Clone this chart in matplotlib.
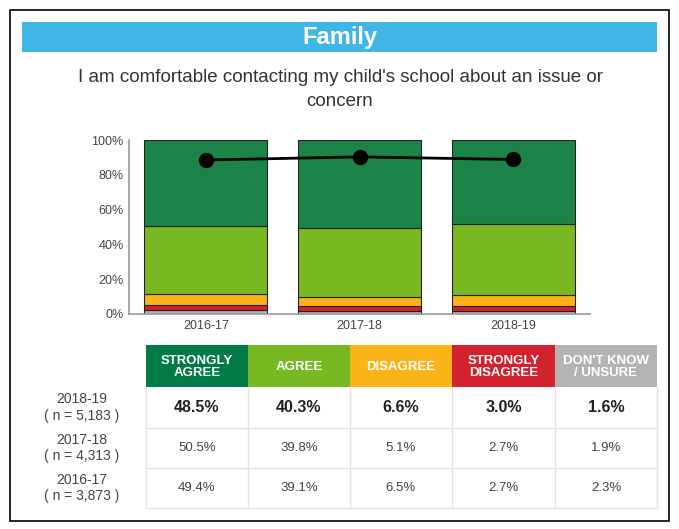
import matplotlib.pyplot as plt
from matplotlib.patches import Rectangle
import numpy as np

years = ['2016-17', '2017-18', '2018-19']
strongly_agree = [49.4, 50.5, 48.5]
agree = [39.1, 39.8, 40.3]
disagree = [6.5, 5.1, 6.6]
strongly_disagree = [2.7, 2.7, 3.0]
dont_know = [2.3, 1.9, 1.6]
n_resp = ['3,873', '4,313', '5,183']

categories = ['STRONGLY\nAGREE', 'AGREE', 'DISAGREE', 'STRONGLY\nDISAGREE', "DON'T KNOW\n/ UNSURE"]
bar_colors = ['#1c8447', '#78b820', '#fbb417', '#d3222e', '#b3b3b3']
head_colors = ['#007a46', '#78b820', '#fbb417', '#d3222e', '#b3b3b3']

plt.rcParams['font.family'] = ['Liberation Sans', 'DejaVu Sans']

W, H = 679, 529
fig = plt.figure(figsize=(W / 100, H / 100), dpi=100)

# full-figure overlay in pixel units
ax0 = fig.add_axes([0, 0, 1, 1])
ax0.set_xlim(0, W)
ax0.set_ylim(H, 0)
ax0.axis('off')

ax0.add_patch(Rectangle((10, 10), 659, 511, fill=False, ec='black', lw=1.2))
ax0.add_patch(Rectangle((22, 22), 635, 30, color='#41b6e6', lw=0))
ax0.text(340, 37.5, 'Family', color='white', fontsize=17, fontweight='bold',
         ha='center', va='center')
ax0.text(340, 77, "I am comfortable contacting my child's school about an issue or",
         fontsize=13.5, color='#333333', ha='center', va='center')
ax0.text(340, 102, 'concern', fontsize=13.5, color='#333333', ha='center', va='center')

# stacked bar chart
ax = fig.add_axes([129 / W, (H - 314) / H, (590 - 129) / W, (314 - 140) / H])
x = np.arange(len(years))
stack = [dont_know, strongly_disagree, disagree, agree, strongly_agree]
cols = bar_colors[::-1]
bottom = np.zeros(len(years))
for vals, c in zip(stack, cols):
    ax.bar(x, vals, 0.8, bottom=bottom, color=c, edgecolor='#222222', linewidth=0.8)
    bottom += np.array(vals)

total_agree = np.array(strongly_agree) + np.array(agree)
ax.plot(x, total_agree, color='black', lw=2, marker='o', markersize=10)

ax.set_xlim(-0.5, 2.5)
ax.set_ylim(0, 100)
ax.set_yticks([0, 20, 40, 60, 80, 100])
ax.set_yticklabels(['%d%%' % v for v in [0, 20, 40, 60, 80, 100]])
ax.set_xticks(x)
ax.set_xticklabels(years)
ax.tick_params(axis='both', length=0, labelsize=9, colors='#444444', pad=4)
for s in ['top', 'right']:
    ax.spines[s].set_visible(False)
for s in ['left', 'bottom']:
    ax.spines[s].set_color('#999999')
    ax.spines[s].set_linewidth(1.2)

# table
col_x = [146, 248, 350, 452, 555, 657]
head_top, head_bot = 345, 387
row_edges = [387, 428, 468, 508]
for i, lab in enumerate(categories):
    ax0.add_patch(Rectangle((col_x[i], head_top), col_x[i + 1] - col_x[i], head_bot - head_top,
                            color=head_colors[i], lw=0))
    ax0.text((col_x[i] + col_x[i + 1]) / 2, (head_top + head_bot) / 2 + 1, lab, color='white',
             fontsize=9.5, fontweight='bold', ha='center', va='center', linespacing=1.05)

rows = [2, 1, 0]
for r, yi in enumerate(rows):
    y0, y1 = row_edges[r], row_edges[r + 1]
    yc = (y0 + y1) / 2
    vals = [strongly_agree[yi], agree[yi], disagree[yi], strongly_disagree[yi], dont_know[yi]]
    ax0.text(82, yc, '%s\n( n = %s )' % (years[yi], n_resp[yi]), fontsize=10, color='#444444',
             ha='center', va='center', linespacing=1.25)
    for i, v in enumerate(vals):
        ax0.text((col_x[i] + col_x[i + 1]) / 2, yc, '%.1f%%' % v, fontsize=11.5 if r == 0 else 9.5,
                 fontweight='bold' if r == 0 else 'normal', color='#222222' if r == 0 else '#444444',
                 ha='center', va='center')
    ax0.plot([col_x[0], col_x[-1]], [y1, y1], color='#e3e3e3', lw=1)
for xx in col_x:
    ax0.plot([xx, xx], [head_bot, row_edges[-1]], color='#e3e3e3', lw=1)

fig.savefig('out.png', dpi=100)
